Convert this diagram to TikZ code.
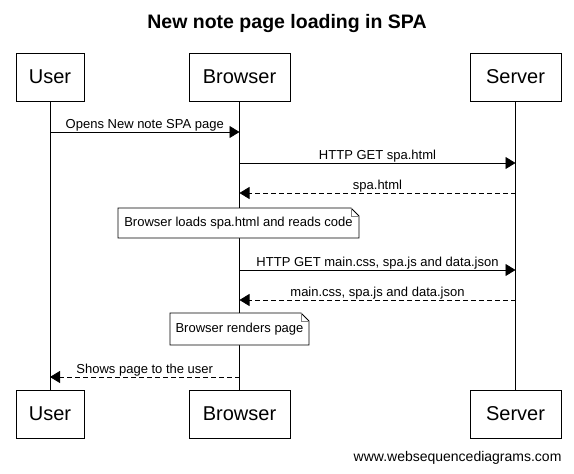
\documentclass[tikz,border=0pt]{standalone}
\usepackage{fontspec}
\setmainfont{Liberation Sans}
\usetikzlibrary{arrows.meta}
\begin{document}
\begin{tikzpicture}[x=1pt,y=-1pt,
  actor/.style={draw,line width=0.8pt,fill=white,minimum height=48pt,inner sep=0pt,font=\fontsize{20}{22}\selectfont},
  lifeline/.style={line width=0.8pt},
  msg/.style={line width=0.8pt,-{Triangle[length=10pt,width=12pt]}},
  ret/.style={msg,dash pattern=on 5pt off 3pt},
  lbl/.style={font=\fontsize{13}{15}\selectfont,inner sep=0pt,anchor=base},
  notebox/.style={font=\fontsize{13}{15}\selectfont,inner sep=0pt},
  noteline/.style={line width=0.8pt,fill=white}
]
\useasboundingbox (0,0) rectangle (574,474);
\node[font=\bfseries\fontsize{19.5}{22}\selectfont] (title) at (287,23) {New note page loading in SPA};
% actors
\node[actor,minimum width=68pt] (ut) at (50,77) {User};
\node[actor,minimum width=101pt] (bt) at (239.5,77) {Browser};
\node[actor,minimum width=91pt] (st) at (515.5,77) {Server};
\node[actor,minimum width=68pt] (ub) at (50,414) {User};
\node[actor,minimum width=101pt] (bb) at (239.5,414) {Browser};
\node[actor,minimum width=91pt] (sb) at (515.5,414) {Server};
% lifelines
\draw[lifeline] (ut.south) -- (ub.north);
\draw[lifeline] (bt.south) -- (bb.north);
\draw[lifeline] (st.south) -- (sb.north);
% coordinates on lifelines
\coordinate (u1) at (ut.south |- 0,132);
\coordinate (b1) at (bt.south |- 0,132);
\coordinate (b2) at (bt.south |- 0,163);
\coordinate (s2) at (st.south |- 0,163);
\coordinate (b3) at (bt.south |- 0,193);
\coordinate (s3) at (st.south |- 0,193);
\coordinate (b5) at (bt.south |- 0,270);
\coordinate (s5) at (st.south |- 0,270);
\coordinate (b6) at (bt.south |- 0,300);
\coordinate (s6) at (st.south |- 0,300);
\coordinate (b8) at (bt.south |- 0,377);
\coordinate (u8) at (ut.south |- 0,377);
% messages
\draw[msg] (u1) -- node[lbl,pos=0.5,yshift=4pt] (m1) {Opens New note SPA page} (b1);
\draw[msg] (b2) -- node[lbl,pos=0.5,yshift=4pt] (m2) {HTTP GET spa.html} (s2);
\draw[ret] (s3) -- node[lbl,pos=0.5,yshift=4pt] (m3) {spa.html} (b3);
\draw[msg] (b5) -- node[lbl,pos=0.5,yshift=4pt] (m5) {HTTP GET main.css, spa.js and data.json} (s5);
\draw[ret] (s6) -- node[lbl,pos=0.5,yshift=4pt] (m6) {main.css, spa.js and data.json} (b6);
\draw[ret] (b8) -- node[lbl,pos=0.5,yshift=4pt] (m8) {Shows page to the user} (u8);
% notes
\draw[noteline] (118,208) -- (351,208) -- (359,216) -- (359,238) -- (118,238) -- cycle;
\draw[line width=0.8pt,gray] (351,208) -- (351,216) -- (359,216);
\node[notebox] (n1) at (238.5,223) {Browser loads spa.html and reads code};
\draw[noteline] (170,313) -- (301,313) -- (309,321) -- (309,345) -- (170,345) -- cycle;
\draw[line width=0.8pt,gray] (301,313) -- (301,321) -- (309,321);
\node[notebox] (n2) at (239.5,329) {Browser renders page};
% footer
\node[font=\fontsize{14}{16}\selectfont,anchor=east] (foot) at (565,458) {www.websequencediagrams.com};
\end{tikzpicture}
\end{document}
